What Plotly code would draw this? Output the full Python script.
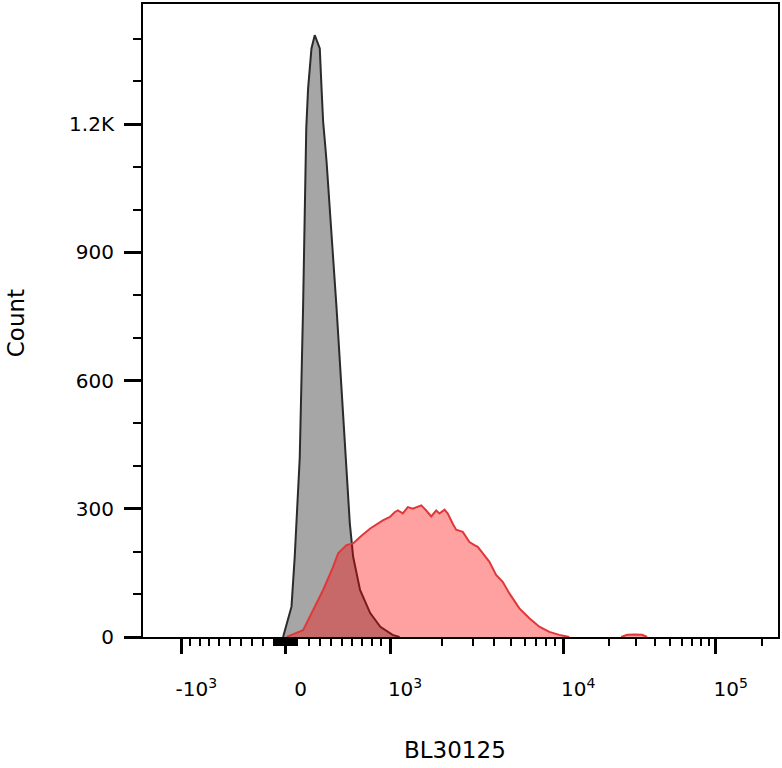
import numpy as np
import plotly.graph_objects as go

# Histogram (fluorescence value, count)
gray_x = [-23, 50, 78, 107, 122, 151, 166, 179, 195, 225, 254, 299, 315, 329, 345,
          360, 452, 546, 578, 611, 679, 783, 891, 1034, 1135]
gray_y = [0, 71, 187, 330, 420, 770, 1040, 1190, 1283, 1377, 1408, 1377, 1283, 1206, 1159,
          1113, 770, 382, 266, 187, 110, 56, 24, 5, 0]

red_x = [8, 151, 239, 329, 420, 467, 546, 611, 679, 783, 919, 998, 1062, 1109, 1185,
         1266, 1353, 1514, 1617, 1728, 1846, 1929, 2062, 2154, 2301, 2407, 2629, 2872, 3070,
         3208, 3506, 3746, 4095, 4469, 4885, 5579, 6372, 7274, 8308, 9487, 10950]
red_y = [0, 16, 63, 110, 164, 196, 215, 219, 234, 254, 273, 281, 292, 296, 289,
         304, 300, 308, 296, 282, 296, 289, 298, 289, 265, 251, 246, 222, 215,
         211, 191, 176, 145, 129, 102, 67, 44, 24, 12, 5, 0]

# small separate blip of red events near 3x10^4
red_bump_x = [23990, 26260, 29190, 32940, 35500]
red_bump_y = [0, 5, 6, 5, 0]

x_major = [-1000, 0, 1000, 10000, 100000]
x_labels = ["-10<sup>3</sup>", "0", "10<sup>3</sup>", "10<sup>4</sup>", "10<sup>5</sup>"]
y_major = [0, 300, 600, 900, 1200]
y_labels = ["0", "300", "600", "900", "1.2K"]


def biex(vals):
    # rough biexponential display scale: arcsinh near zero, log decades above 10^3
    v = np.asarray(vals, dtype=float)
    a = np.abs(v)
    safe = np.maximum(a, 1.0)
    u = np.where(
        a <= 1e3,
        np.arcsinh(a / 1170) / np.arcsinh(1000 / 1170),
        np.where(a <= 1e4, 1 + 1.66 * np.log10(safe / 1e3), 2.66 + 1.461 * np.log10(safe / 1e4)),
    )
    return np.sign(v) * u


x_minor = [s * k for s in (-1, 1) for k in list(range(10, 100, 10)) + list(range(100, 1000, 100))]
x_minor += [k * 1000 for k in range(2, 10)] + [k * 10000 for k in range(2, 10)] + [200000]
y_minor = [v for v in range(100, 1500, 100) if v % 300 != 0]

gray_line = dict(color="#2b2b2b", width=2)
red_line = dict(color="#e0383a", width=2)
red_fill = "rgba(255,0,0,0.37)"

fig = go.Figure()
fig.add_trace(go.Scatter(x=biex(gray_x), y=gray_y, mode="lines", fill="tozeroy",
                         fillcolor="#a6a6a6", line=gray_line))
fig.add_trace(go.Scatter(x=biex(red_x), y=red_y, mode="lines", fill="tozeroy",
                         fillcolor=red_fill, line=red_line))
fig.add_trace(go.Scatter(x=biex(red_bump_x), y=red_bump_y, mode="lines", fill="tozeroy",
                         fillcolor=red_fill, line=red_line))

tick_font = dict(family="DejaVu Sans", size=20, color="black")
title_font = dict(family="DejaVu Sans", size=23, color="black")

fig.update_layout(
    width=782, height=768,
    margin=dict(l=143, r=3, t=2, b=131),
    paper_bgcolor="white", plot_bgcolor="white",
    showlegend=False,
    xaxis=dict(
        range=[-1.368, 4.718], showgrid=False, zeroline=False,
        showline=True, mirror=True, linecolor="black", linewidth=2,
        tickmode="array", tickvals=biex(x_major), ticktext=x_labels,
        ticks="outside", ticklen=15, tickwidth=3, tickcolor="black",
        tickfont=tick_font, ticklabelshift=15, ticklabelstandoff=18,
        minor=dict(tickmode="array", tickvals=biex(x_minor), ticks="outside",
                   ticklen=7, tickwidth=2, tickcolor="black"),
    ),
    yaxis=dict(
        range=[0, 1481], showgrid=False, zeroline=False,
        showline=True, mirror=True, linecolor="black", linewidth=2,
        tickmode="array", tickvals=y_major, ticktext=y_labels,
        ticks="outside", ticklen=17, tickwidth=3, tickcolor="black",
        tickfont=tick_font, ticklabelstandoff=6,
        minor=dict(tickmode="array", tickvals=y_minor, ticks="outside",
                   ticklen=8, tickwidth=2, tickcolor="black"),
    ),
    annotations=[
        dict(text="Count", xref="paper", yref="paper", x=-0.1997, y=0.496,
             xanchor="center", yanchor="middle",
             textangle=-90, showarrow=False, font=title_font),
        dict(text="BL30125", xref="paper", yref="paper", x=0.4906, y=-0.178,
             xanchor="center", yanchor="middle", showarrow=False, font=title_font),
    ],
)

# drop the page's default body margin so the figure sits at the window corner
fig.write_html("out.html", config={"displayModeBar": False},
               post_script="document.body.style.margin='0';")
